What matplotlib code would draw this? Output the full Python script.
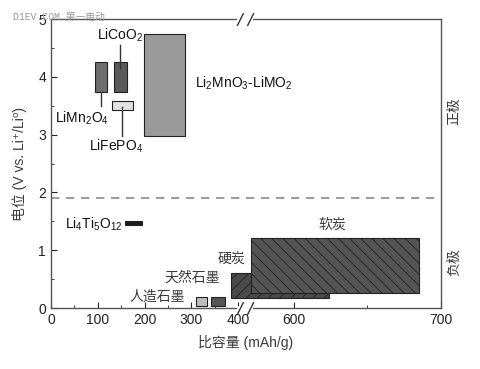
import numpy as np
import matplotlib
matplotlib.use('Agg')
import matplotlib.pyplot as plt
import matplotlib.transforms as mtransforms
from matplotlib.path import Path

plt.rcParams['font.family'] = ['Liberation Sans', 'Noto Sans CJK SC', 'DejaVu Sans']
plt.rcParams['mathtext.fontset'] = 'custom'
plt.rcParams['mathtext.rm'] = 'Liberation Sans'
plt.rcParams['mathtext.it'] = 'Liberation Sans:italic'
plt.rcParams['mathtext.bf'] = 'Liberation Sans:bold'
plt.rcParams['mathtext.default'] = 'regular'
plt.rcParams['hatch.linewidth'] = 0.6
plt.rcParams['hatch.color'] = '#1a1a1a'

# electrode materials: capacity range (mAh/g) and potential range (V vs Li+/Li)
materials = ['LiMn2O4', 'LiCoO2', 'LiFePO4', 'Li2MnO3-LiMO2', 'Li4Ti5O12',
             '人造石墨', '天然石墨', '硬炭', '软炭']
cap_lo = [94, 135, 131, 199, 158, 309, 342, 385, 571]
cap_hi = [120, 163, 175, 287, 195, 333, 372, 624, 685]
v_lo = [3.73, 3.73, 3.43, 2.98, 1.43, 0.04, 0.04, 0.17, 0.26]
v_hi = [4.26, 4.26, 3.58, 4.74, 1.51, 0.20, 0.20, 0.61, 1.22]
divider_v = 1.9

colors = ['#6e6e6e', '#5a5a5a', '#e2e2e2', '#9a9a9a', '#1a1a1a',
          '#bdbdbd', '#555555', '#4a4a4a', '#555555']
hatches = [None] * 7 + ['///', '\\\\\\']

# broken x axis: 0..B1 normal, B2..700 stretched
B1, B2 = 415, 567
K = 1.47 / 0.4675


def fwd(x):
    x = np.asarray(x, dtype=float)
    return np.where(x <= B1, x, np.where(x >= B2, B1 + (x - B2) * K, B1))


def inv(u):
    u = np.asarray(u, dtype=float)
    return np.where(u <= B1, u, B2 + (u - B1) / K)


fig = plt.figure(figsize=(4.8, 3.69), dpi=100)
ax = fig.add_axes([0.106, 0.165, 0.813, 0.7835])
ax.set_xscale('function', functions=(fwd, inv))

for i in range(len(materials)):
    ax.bar(cap_lo[i], v_hi[i] - v_lo[i], width=cap_hi[i] - cap_lo[i],
           bottom=v_lo[i], align='edge', color=colors[i], edgecolor='#222222',
           linewidth=0.8, hatch=hatches[i], zorder=2)

ax.axhline(divider_v, color='#8a8a8a', ls=(0, (5, 4)), lw=1.2, zorder=1)

# leader lines
lc = '#333333'
ax.plot([148, 148], [4.55, 4.15], color=lc, lw=1)
ax.plot([107, 107], [3.73, 3.49], color=lc, lw=1)
ax.plot([152, 152], [3.48, 2.98], color=lc, lw=1)

tc = '#111111'
ax.text(148, 4.72, 'LiCoO$_2$', ha='center', va='center', fontsize=10, color=tc)
ax.text(8, 3.29, 'LiMn$_2$O$_4$', ha='left', va='center', fontsize=10, color=tc)
ax.text(82, 2.79, 'LiFePO$_4$', ha='left', va='center', fontsize=10, color=tc)
ax.text(308, 3.89, 'Li$_2$MnO$_3$-LiMO$_2$', ha='left', va='center', fontsize=10, color=tc)
ax.text(30, 1.45, 'Li$_4$Ti$_5$O$_{12}$', ha='left', va='center', fontsize=10, color=tc)

cjk = ['Noto Sans CJK SC', 'DejaVu Sans']
cc = '#3a3a3a'
ax.text(287, 0.19, '人造石墨', ha='right', va='center', fontsize=10, color=cc, family=cjk)
ax.text(361, 0.52, '天然石墨', ha='right', va='center', fontsize=10, color=cc, family=cjk)
ax.text(386, 0.85, '硬炭', ha='center', va='center', fontsize=10, color=cc, family=cjk)
ax.text(626, 1.45, '软炭', ha='center', va='center', fontsize=10, color=cc, family=cjk)

yt = mtransforms.blended_transform_factory(ax.transAxes, ax.transData)
ax.text(1.033, 3.4, '正极', rotation=90, ha='center', va='center', fontsize=10,
        color=cc, family=cjk, transform=yt)
ax.text(1.033, 0.8, '负极', rotation=90, ha='center', va='center', fontsize=10,
        color=cc, family=cjk, transform=yt)

# break marks "//" on top and bottom spines
xt = mtransforms.blended_transform_factory(ax.transData, ax.transAxes)
gap = Path([(-1.3, -0.25), (1.3, -0.25), (1.3, 0.25), (-1.3, 0.25), (-1.3, -0.25)],
           [Path.MOVETO, Path.LINETO, Path.LINETO, Path.LINETO, Path.CLOSEPOLY])
slashes = Path([(-1.3, -1), (-0.3, 1), (0.3, -1), (1.3, 1)],
               [Path.MOVETO, Path.LINETO, Path.MOVETO, Path.LINETO])
ax.plot([B1, B1], [0, 1], ls='none', marker=gap, markersize=12, color='white',
        markeredgewidth=0, transform=xt, clip_on=False, zorder=5)
ax.plot([B1, B1], [0, 1], ls='none', marker=slashes, markersize=12,
        markerfacecolor='none', markeredgecolor='#333333', markeredgewidth=1.0,
        transform=xt, clip_on=False, zorder=6)

ax.set_xlim(0, 700)
ax.set_ylim(0, 5)
ax.set_xticks([0, 100, 200, 300, 400, 600, 700])
ax.set_xticks([50, 150, 250, 350, 650], minor=True)
ax.set_yticks([0, 1, 2, 3, 4, 5])
ax.set_yticks(np.arange(0.5, 5, 1.0), minor=True)
ax.tick_params(direction='in', which='both', top=False, right=False,
               labelsize=10, colors='#222222')
ax.tick_params(which='major', length=4)
ax.tick_params(which='minor', length=2.5)
for s in ax.spines.values():
    s.set_color('#555555')
    s.set_linewidth(1.0)

ax.set_xlabel('比容量 (mAh/g)', fontsize=10, color=cc, labelpad=6)
ax.set_ylabel('电位 (V vs. Li⁺/Li⁰)', fontsize=10, color=cc, labelpad=8)

fig.text(0.027, 0.954, 'D1EV.COM 第一电动', fontsize=7, color='#999999',
         family=['Liberation Mono', 'Noto Sans CJK SC'], va='center')

fig.savefig('out.png', dpi=100)
